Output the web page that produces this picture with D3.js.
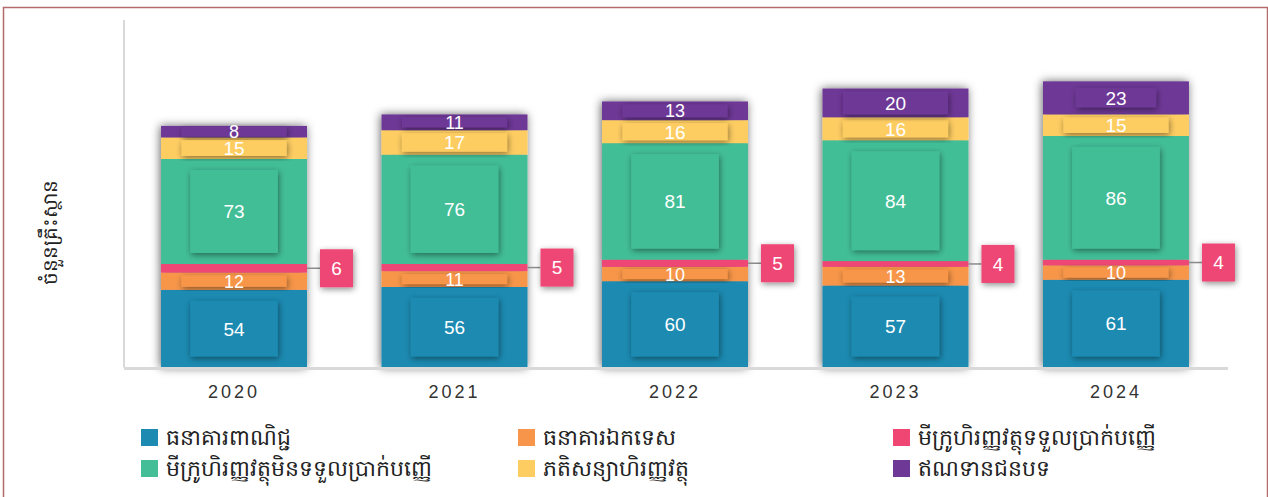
<!DOCTYPE html>
<html>
<head>
<meta charset="utf-8">
<script src="https://cdn.jsdelivr.net/npm/d3@7"></script>
<style>
  body { margin: 0; background: #fff; }
  svg text { font-family: "Liberation Sans", Arial, sans-serif; }
</style>
</head>
<body>
<div id="chart"></div>
<script>
// chart data
const years = ["2020", "2021", "2022", "2023", "2024"];
const seriesNames = [
  "ធនាគារពាណិជ្ជ",
  "ធនាគារឯកទេស",
  "មីក្រូហិរញ្ញវត្ថុទទួលប្រាក់បញ្ញើ",
  "មីក្រូហិរញ្ញវត្ថុមិនទទួលប្រាក់បញ្ញើ",
  "ភតិសន្យាហិរញ្ញវត្ថុ",
  "ឥណទានជនបទ"
];
const commercialBanks = [54, 56, 60, 57, 61];
const specializedBanks = [12, 11, 10, 13, 10];
const depositMfi = [6, 5, 5, 4, 4];
const nonDepositMfi = [73, 76, 81, 84, 86];
const leasing = [15, 17, 16, 16, 15];
const ruralCredit = [8, 11, 13, 20, 23];
const yLabel = "ចំនួនគ្រឹះស្ថាន";

const colors = ["#1d8ab1", "#f7964a", "#ef4674", "#43be97", "#fecd62", "#6e3896"];

const width = 1268, height = 497;
const margin = { left: 124, right: 42, top: 8, bottom: 129 };

const allSeries = [commercialBanks, specializedBanks, depositMfi, nonDepositMfi, leasing, ruralCredit];
const rows = years.map((y, i) => {
  const r = { year: y };
  allSeries.forEach((s, k) => r[k] = s[i]);
  return r;
});
const stack = d3.stack().keys(d3.range(allSeries.length));
const layers = stack(rows);

const svg = d3.select("#chart").append("svg")
  .attr("width", width).attr("height", height);

// shadows
const defs = svg.append("defs");
defs.append("filter").attr("id", "barShadow")
  .attr("x", "-20%").attr("y", "-10%").attr("width", "140%").attr("height", "120%")
  .append("feDropShadow")
  .attr("dx", -1).attr("dy", 0).attr("stdDeviation", 5)
  .attr("flood-color", "#000").attr("flood-opacity", 0.6);
defs.append("filter").attr("id", "boxShadow")
  .attr("x", "-30%").attr("y", "-30%").attr("width", "160%").attr("height", "160%")
  .append("feDropShadow")
  .attr("dx", 1).attr("dy", 2).attr("stdDeviation", 3)
  .attr("flood-color", "#000").attr("flood-opacity", 0.45);

// frame
svg.append("rect")
  .attr("x", 3.5).attr("y", 7.5).attr("width", width - 4).attr("height", height)
  .attr("fill", "none").attr("stroke", "#b56b6b").attr("stroke-width", 1.5);

const x = d3.scaleBand().domain(years)
  .range([margin.left, width - margin.right])
  .paddingInner(0.338).paddingOuter(0.168);
const y = d3.scaleLinear().domain([0, 250])
  .range([height - margin.bottom - 0.5, margin.top]);

// axes lines
svg.append("line")
  .attr("x1", margin.left).attr("x2", margin.left)
  .attr("y1", margin.top + 12).attr("y2", y(0))
  .attr("stroke", "#d9d9d9").attr("stroke-width", 2);

// bars
const barG = svg.append("g");
const bars = barG.selectAll("g.bar").data(years).join("g")
  .attr("class", "bar")
  .attr("filter", "url(#barShadow)");
bars.each(function(yr, i) {
  const g = d3.select(this);
  layers.forEach((layer, k) => {
    const d = layer[i];
    g.append("rect")
      .attr("x", x(yr))
      .attr("y", y(d[1]))
      .attr("width", x.bandwidth())
      .attr("height", y(d[0]) - y(d[1]))
      .attr("fill", colors[k]);
  });
});

// baseline
svg.append("line")
  .attr("x1", margin.left).attr("x2", width - 40)
  .attr("y1", y(0) + 1).attr("y2", y(0) + 1)
  .attr("stroke", "#d9d9d9").attr("stroke-width", 3);

// segment labels with inner boxes
const labelG = svg.append("g");
layers.forEach((layer, k) => {
  if (k === 2) return; // deposit-taking MFIs labelled outside
  layer.forEach((d, i) => {
    const yr = years[i];
    const cx = x(yr) + x.bandwidth() / 2;
    const top = y(d[1]), bot = y(d[0]);
    const h = bot - top;
    const cy = (top + bot) / 2;
    let bw, bh;
    if (h > 60) { bw = x.bandwidth() * 0.6; bh = h - 22; }
    else if (h > 30) { bw = x.bandwidth() * 0.55; bh = h - 14; }
    else { bw = x.bandwidth() * 0.72; bh = Math.max(h - 6, 10); }
    labelG.append("rect")
      .attr("x", cx - bw / 2).attr("y", cy - bh / 2)
      .attr("width", bw).attr("height", bh)
      .attr("fill", colors[k])
      .attr("filter", "url(#boxShadow)");
    labelG.append("text")
      .attr("x", cx).attr("y", cy)
      .attr("dy", "0.36em")
      .attr("text-anchor", "middle")
      .attr("fill", "#fff")
      .style("font-size", h < 20 ? "18px" : "19px")
      .text(d.data[k]);
  });
});

// outside callouts for deposit-taking MFIs
layers[2].forEach((d, i) => {
  const yr = years[i];
  const right = x(yr) + x.bandwidth();
  const cy = (y(d[0]) + y(d[1])) / 2;
  const bx = right + 13;
  labelG.append("line")
    .attr("x1", right).attr("x2", bx)
    .attr("y1", cy).attr("y2", cy)
    .attr("stroke", "#8c8c8c").attr("stroke-width", 1.5);
  labelG.append("rect")
    .attr("x", bx).attr("y", cy - 19)
    .attr("width", 33).attr("height", 38)
    .attr("fill", colors[2])
    .attr("filter", "url(#boxShadow)");
  labelG.append("text")
    .attr("x", bx + 16.5).attr("y", cy)
    .attr("dy", "0.36em")
    .attr("text-anchor", "middle")
    .attr("fill", "#fff")
    .style("font-size", "19px")
    .text(d.data[2]);
});

// x axis labels
const xAxis = d3.axisBottom(x).tickSize(0).tickPadding(18);
svg.append("g")
  .attr("transform", `translate(0,${y(0)})`)
  .call(xAxis)
  .call(g => g.select(".domain").remove())
  .selectAll("text")
  .style("font-family", "'Liberation Sans', Arial, sans-serif")
  .style("font-size", "18px")
  .style("letter-spacing", "3px")
  .attr("fill", "#333");

// y axis title
svg.append("text")
  .attr("transform", `translate(50,${232}) rotate(-90)`)
  .attr("text-anchor", "middle")
  .attr("dy", "0.35em")
  .attr("fill", "#222")
  .style("font-size", "20px")
  .text(yLabel);

// legend
const legendCols = [141, 518, 893];
const legendRows = [437, 468];
const legend = svg.append("g");
seriesNames.forEach((name, k) => {
  const lx = legendCols[k % 3];
  const ly = legendRows[Math.floor(k / 3)];
  legend.append("rect")
    .attr("x", lx).attr("y", ly - 8)
    .attr("width", 17).attr("height", 17)
    .attr("fill", colors[k]);
  legend.append("text")
    .attr("x", lx + 25).attr("y", ly)
    .attr("dy", "0.35em")
    .attr("fill", "#222")
    .style("font-size", "22px")
    .text(name);
});
</script>
</body>
</html>
